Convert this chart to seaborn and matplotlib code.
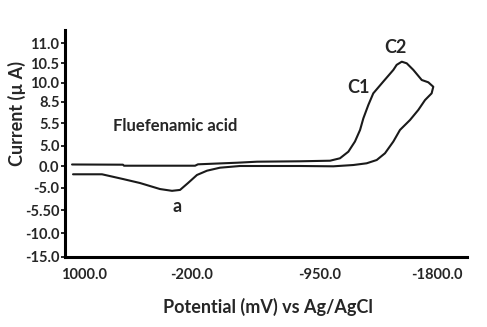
import numpy as np
import pandas as pd
import matplotlib
matplotlib.use("Agg")
import matplotlib.pyplot as plt
import seaborn as sns

# Cyclic voltammogram of fluefenamic acid (one closed scan loop)
potential_mv = [1133, 567, 556, -218, -235, -464, -581, -833, -1023, -1095,
                -1156, -1204, -1241, -1265, -1301, -1337, -1410, -1483, -1507, -1544,
                -1580, -1628, -1689, -1737, -1773, -1761, -1713, -1664, -1604, -1531,
                -1483, -1422, -1362, -1289, -1192, -1047, -833, -481, -364, -288,
                -229, -156, -67, 22, 156, 378, 567, 800, 1122]
current_ua = [0.37, 0.32, 0.07, 0.07, 0.41, 0.80, 1.05, 1.15, 1.29, 1.88,
              3.49, 5.09, 5.35, 6.19, 8.04, 9.16, 10.03, 10.33, 10.46, 10.54,
              10.50, 10.33, 10.07, 10.01, 9.68, 9.16, 8.63, 7.35, 5.96, 5.35,
              5.09, 3.10, 1.46, 0.66, 0.24, -0.07, 0.0, 0.0, -0.39, -1.08,
              -2.07, -3.92, -5.05, -5.07, -5.03, -3.92, -3.00, -1.91, -1.91]

x_tick_values = [1000, -200, -950, -1800]
x_tick_labels = ["1000.0", "-200.0", "-950.0", "-1800.0"]
y_tick_values = [-15, -10, -5.5, -5, 0, 5, 5.5, 8.5, 10, 10.5, 11]
y_tick_labels = ["-15.0", "-10.0", "-5.50", "-5.0", "0.0", "5.0", "5.5",
                 "8.5", "10.0", "10.5", "11.0"]

sample_name = "Fluefenamic acid"
peak_names = ["C1", "C2", "a"]

# ---- layout (figure pixels, origin top-left) ----
W, H = 487, 327
frame_left, frame_right, frame_top, frame_bottom = 65, 467, 30, 256.7
x_tick_cols = [84, 192, 320, 437]
y_tick_rows = [256.7, 233.3, 210, 187.7, 166, 145.5, 123.3, 101.7, 82.7, 63.3, 43.3]


def piecewise(v, xs, ys):
    v = np.asarray(v, dtype=float)
    xs = np.asarray(xs, dtype=float)
    ys = np.asarray(ys, dtype=float)
    out = np.interp(v, xs, ys)
    lo = (ys[1] - ys[0]) / (xs[1] - xs[0])
    hi = (ys[-1] - ys[-2]) / (xs[-1] - xs[-2])
    out = np.where(v < xs[0], ys[0] + (v - xs[0]) * lo, out)
    out = np.where(v > xs[-1], ys[-1] + (v - xs[-1]) * hi, out)
    return out


neg_x = -np.asarray(x_tick_values, dtype=float)
cols = np.asarray(x_tick_cols, dtype=float)
yv = np.asarray(y_tick_values, dtype=float)
heights = -np.asarray(y_tick_rows, dtype=float)


def fwd_x(v):
    return piecewise(-np.asarray(v, dtype=float), neg_x, cols)


def inv_x(p):
    return -piecewise(p, cols, neg_x)


def fwd_y(v):
    return piecewise(v, yv, heights)


def inv_y(p):
    return piecewise(p, heights, yv)


sns.set_style("white")
plt.rcParams["font.family"] = ["Lato", "DejaVu Sans"]
plt.rcParams["font.weight"] = "bold"

fig = plt.figure(figsize=(W / 100, H / 100), dpi=100)
ax = fig.add_axes([frame_left / W, 1 - frame_bottom / H,
                   (frame_right - frame_left) / W, (frame_bottom - frame_top) / H])

df = pd.DataFrame({"Potential": potential_mv, "Current": current_ua})
sns.lineplot(data=df, x="Potential", y="Current", sort=False, estimator=None,
             color="#1a1a1a", linewidth=1.5, ax=ax)

ax.set_xscale("function", functions=(fwd_x, inv_x))
ax.set_yscale("function", functions=(fwd_y, inv_y))
# potential decreases to the right
ax.set_xlim(float(inv_x(frame_right)), float(inv_x(frame_left)))
ax.set_ylim(float(inv_y(-frame_bottom)), float(inv_y(-frame_top)))

ax.set_xticks(x_tick_values)
ax.set_xticklabels(x_tick_labels)
ax.set_yticks(y_tick_values)
ax.set_yticklabels(y_tick_labels)
ax.minorticks_off()
ax.tick_params(axis="x", length=0, pad=8, labelsize=10.5)
ax.tick_params(axis="y", length=3, width=1.2, pad=1, labelsize=10.5, left=True,
               color="black")
for lab in ax.get_xticklabels() + ax.get_yticklabels():
    lab.set_fontweight("bold")

for side in ["top", "right"]:
    ax.spines[side].set_visible(False)
for side in ["left", "bottom"]:
    ax.spines[side].set_color("black")
    ax.spines[side].set_linewidth(2.2)

ax.set_xlabel("")
ax.set_ylabel("")
fig.text(268 / W, 1 - 307 / H, "Potential (mV) vs Ag/AgCl", ha="center", va="center",
         fontsize=13, fontweight="bold")
fig.text(17 / W, 1 - 113 / H, "Current (\u00b5 A)", ha="center", va="center",
         rotation=90, fontsize=13, fontweight="bold")

fig.text(175 / W, 1 - 131 / H, sample_name, ha="center", va="baseline",
         fontsize=12, fontweight="bold")
peak_xy = [(358.5, 93), (395, 53), (177, 211.5)]
for name, (px, py) in zip(peak_names, peak_xy):
    fig.text(px / W, 1 - py / H, name, ha="center", va="baseline",
             fontsize=13, fontweight="bold")

fig.savefig("out.png", dpi=100, facecolor="white")
